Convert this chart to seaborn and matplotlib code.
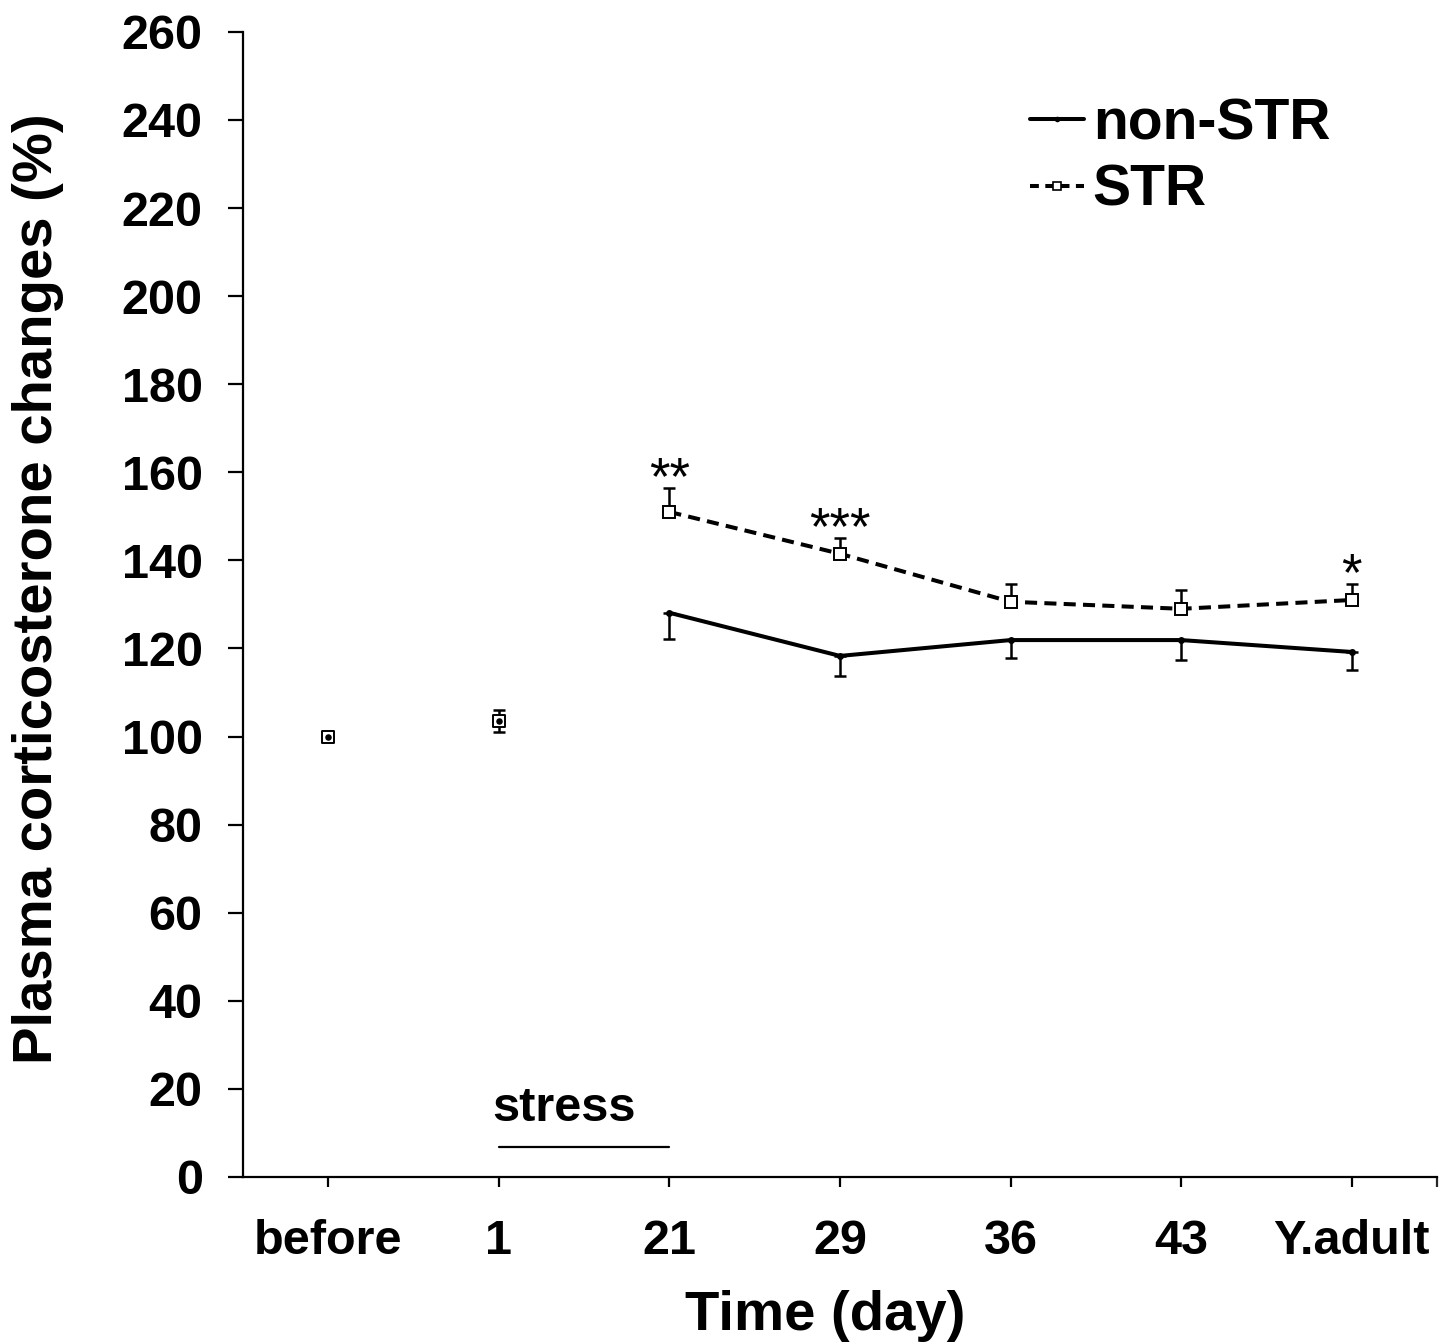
import matplotlib
matplotlib.use("Agg")
import matplotlib.pyplot as plt
from matplotlib.lines import Line2D
import seaborn as sns
import pandas as pd
import numpy as np

# ---- data ----
categories = ["before", "1", "21", "29", "36", "43", "Y.adult"]
non_str_mean = [100.0, 103.5, 128.1, 118.3, 121.9, 121.9, 119.2]
non_str_err = [0.0, 2.5, 6.0, 4.5, 4.0, 4.5, 4.0]
str_mean = [100.0, 103.5, 151.0, 141.5, 130.6, 129.0, 131.0]
str_err = [0.0, 2.5, 5.5, 3.6, 4.0, 4.3, 3.6]
sig_labels = ["", "", "**", "***", "", "", "*"]
yticks = list(range(0, 261, 20))
stress_span = ["1", "21"]
stress_level = 6.8
line_start = "21"   # lines are drawn from this time point on

sns.set_style("ticks")
plt.rcParams["font.family"] = ["Liberation Sans", "DejaVu Sans"]
plt.rcParams["font.weight"] = "bold"
plt.rcParams["text.color"] = "black"
plt.rcParams["axes.labelcolor"] = "black"

pos = np.arange(len(categories))
df = pd.DataFrame({
    "pos": np.concatenate([pos, pos]),
    "value": non_str_mean + str_mean,
    "err": non_str_err + str_err,
    "group": ["non-STR"] * len(categories) + ["STR"] * len(categories),
})

fig = plt.figure(figsize=(14.55, 13.44), dpi=100)
ax = fig.add_axes([0.167, 0.1243, 0.8206, 0.852])

start = categories.index(line_start)
d_str = df[df.group == "STR"]
d_non = df[df.group == "non-STR"]

# error bars (STR upward, non-STR downward)
ax.errorbar(d_str.pos, d_str.value, yerr=[np.zeros(len(d_str)), d_str.err],
            fmt="none", ecolor="black", elinewidth=1.8, capsize=4.5, capthick=1.8, zorder=2)
ax.errorbar(d_non.pos, d_non.value, yerr=[d_non.err, np.zeros(len(d_non))],
            fmt="none", ecolor="black", elinewidth=1.8, capsize=4.5, capthick=1.8, zorder=2)

# lines from day 21 onward
sns.lineplot(data=d_str[d_str.pos >= start], x="pos", y="value", ax=ax, color="black",
             linestyle=(0, (3, 1.8)), linewidth=2.9, marker="s", markersize=9,
             markerfacecolor="white", markeredgecolor="black", markeredgewidth=1.4,
             zorder=3, legend=False)
sns.lineplot(data=d_non[d_non.pos >= start], x="pos", y="value", ax=ax, color="black",
             linewidth=2.9, marker="o", markersize=5, markeredgewidth=0,
             zorder=4, legend=False)

# isolated points before day 21
sns.scatterplot(data=d_str[d_str.pos < start], x="pos", y="value", ax=ax, marker="s",
                s=80, facecolor="white", edgecolor="black", linewidth=1.4, zorder=3, legend=False)
sns.scatterplot(data=d_non[d_non.pos < start], x="pos", y="value", ax=ax, marker="o",
                s=22, color="black", linewidth=0, zorder=4, legend=False)

# significance marks
for p, lab, m, e in zip(pos, sig_labels, str_mean, str_err):
    if lab:
        ax.text(p, m + e - 1.4, lab, ha="center", va="baseline", fontsize=38,
                fontweight="normal", color="black")

# stress bar
s0, s1 = categories.index(stress_span[0]), categories.index(stress_span[1])
ax.plot([s0, s1], [stress_level, stress_level], color="black", linewidth=1.6)
ax.text((s0 + s1) / 2 - 0.12, stress_level + 8.7, "stress", ha="center", va="center",
        fontsize=35, fontweight="bold", color="black")

# axes styling
ax.set_xlim(-0.5, len(categories) - 0.5)
ax.set_ylim(0, 260)
ax.set_yticks(yticks)
ax.set_xticks(pos)
ax.set_xticklabels(categories)
ax.set_xticks([len(categories) - 0.5], minor=True)
for s in ["top", "right"]:
    ax.spines[s].set_visible(False)
for s in ["left", "bottom"]:
    ax.spines[s].set_linewidth(1.6)
    ax.spines[s].set_color("black")
ax.tick_params(axis="y", length=11, width=1.6, pad=18, labelsize=35, colors="black")
ax.tick_params(axis="x", which="major", length=7, width=1.6, pad=23, labelsize=35, colors="black")
ax.tick_params(axis="x", which="minor", length=7, width=1.6)
for lab in ax.get_xticklabels() + ax.get_yticklabels():
    lab.set_fontweight("bold")
ax.set_xlabel("Time (day)", fontsize=40.5, fontweight="bold")
ax.set_ylabel("Plasma corticosterone changes (%)", fontsize=40.5, fontweight="bold")
ax.xaxis.set_label_coords(0.488, -0.099)
ax.yaxis.set_label_coords(-0.172, 0.514)
ax.yaxis.label.set_verticalalignment("center")

# legend
handles = [
    Line2D([], [], color="black", linewidth=2.9, marker="o", markersize=4, markeredgewidth=0),
    Line2D([], [], color="black", linewidth=2.9, linestyle=(0, (2.2, 1.6)), marker="s",
           markersize=6, markerfacecolor="white", markeredgecolor="black", markeredgewidth=1.2),
]
fig.legend(handles, ["non-STR", "STR"], loc="upper left",
           bbox_to_anchor=(1030 / 1455, 1 - 97 / 1344), frameon=False,
           prop={"size": 41, "weight": "bold"}, handlelength=0.95, handletextpad=0.15,
           labelspacing=0.22, borderpad=0, borderaxespad=0)

fig.savefig("out.png", dpi=100, facecolor="white")
